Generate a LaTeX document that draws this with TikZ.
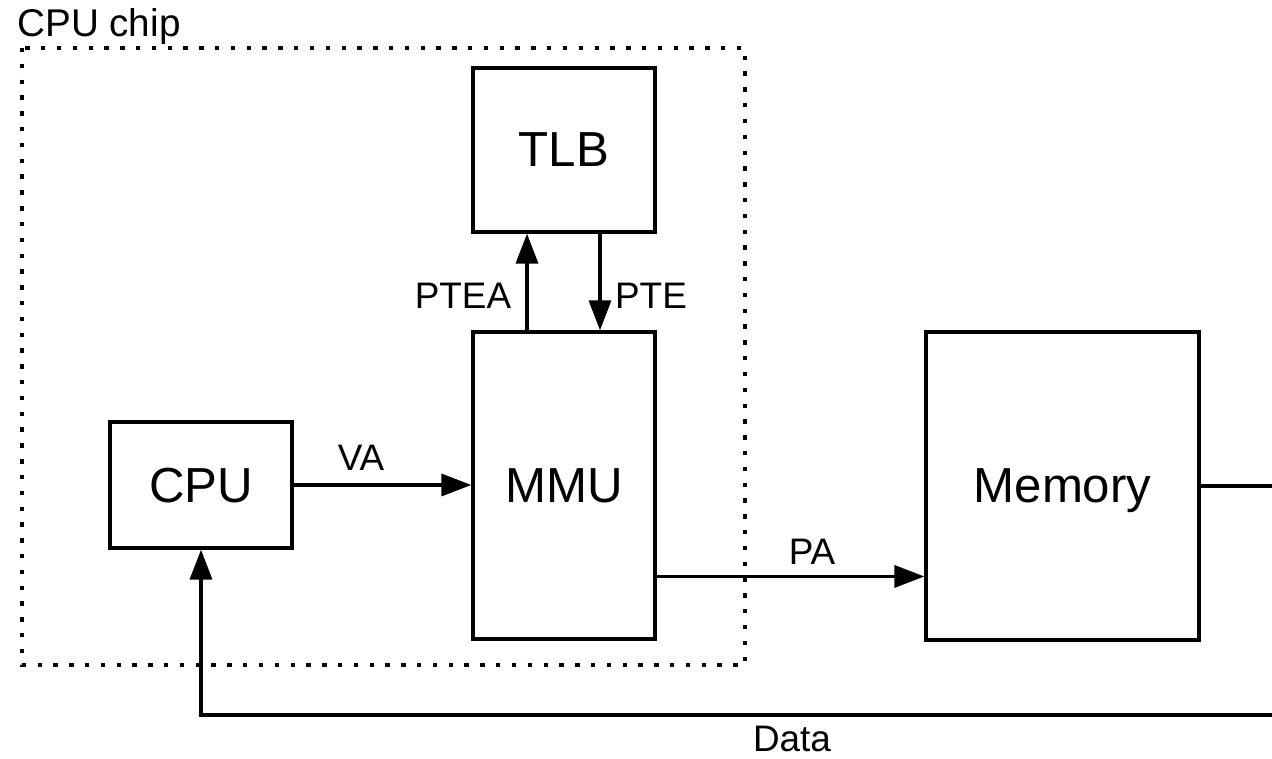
\documentclass[tikz,border=0pt]{standalone}
\usepackage{fontspec}
\setmainfont{Liberation Sans}
\usepackage{tikz}
\usetikzlibrary{arrows.meta, positioning, calc}
\usepackage{xcolor}

\begin{document}
\begin{tikzpicture}[x=0.02cm, y=-0.02cm,
  box/.style={draw, line width=1.9pt, inner sep=0pt, text depth=0pt, font=\fontsize{28}{32}\selectfont},
  lbl/.style={inner sep=0pt, font=\fontsize{21}{25}\selectfont},
  arr/.style={line width=1.9pt, -{Triangle[length=17pt, width=12.5pt]}}]
  \useasboundingbox (0,0) rectangle (1272,759);
  % CPU chip boundary
  \draw[line width=1.9pt, dash pattern=on 2.5pt off 6.5pt] (22,48) rectangle (745,665);
  \node[lbl, anchor=west, font=\fontsize{22}{26}\selectfont] (chip) at (17,27) {CPU chip};
  % Boxes
  \node[box, minimum width=3.64cm, minimum height=3.28cm] (TLB) at (564,150) {TLB};
  \node[box, minimum width=3.64cm, minimum height=6.14cm] (MMU) at (564,485.5) {MMU};
  \node[box, minimum width=3.64cm, minimum height=2.52cm] (CPU) at (201,485) {CPU};
  \node[box, minimum width=5.46cm, minimum height=6.16cm] (Memory) at (1062.5,486) {Memory};
  % Off-picture ends
  \coordinate (out) at (Memory.east -| 1272,0);
  \coordinate (back) at (1272,715);
  % Connectors
  \draw[arr] (CPU.east) -- (CPU.east -| MMU.west);
  \node[lbl] (va) at (361,458) {VA};
  \draw[arr] ([xshift=-0.74cm]MMU.north) -- ([xshift=-0.74cm]TLB.south);
  \node[lbl] (ptea) at (463,296) {PTEA};
  \draw[arr] ([xshift=0.72cm]TLB.south) -- ([xshift=0.72cm]MMU.north);
  \node[lbl] (pte) at (651,296) {PTE};
  \draw[arr] ([yshift=-1.82cm]MMU.east) -- ([yshift=-1.82cm]MMU.east -| Memory.west);
  \node[lbl] (pa) at (812,552) {PA};
  \draw[line width=1.9pt] (Memory.east) -- (out);
  \draw[arr] (back) -| (CPU.south);
  \node[lbl] (data) at (792,739) {Data};
\end{tikzpicture}
\end{document}
